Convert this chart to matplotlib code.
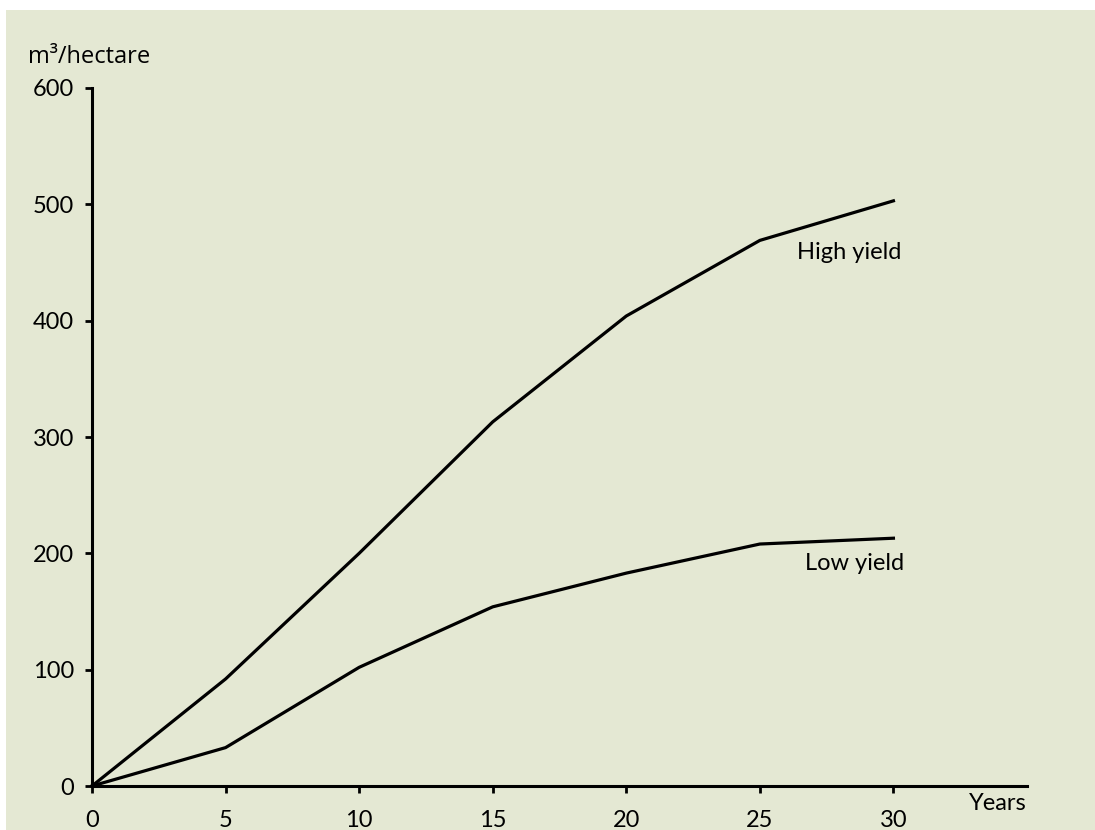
import matplotlib.pyplot as plt
from matplotlib.patches import Rectangle

years = [0, 5, 10, 15, 20, 25, 30]
high_yield = [0, 92, 200, 313, 404, 469, 503]
low_yield = [0, 33, 102, 154, 183, 208, 213]
x_ticks = [0, 5, 10, 15, 20, 25, 30]
y_ticks = [0, 100, 200, 300, 400, 500, 600]

plt.rcParams['font.family'] = ['Lato', 'DejaVu Sans']
bg = '#e4e8d3'
fs = 17

fig = plt.figure(figsize=(10.95, 8.3), dpi=100, facecolor='white')
fig.patches.append(Rectangle((6 / 1095, 0), 1 - 6 / 1095, 1 - 10 / 830,
                             transform=fig.transFigure, facecolor=bg,
                             edgecolor='none', zorder=-10))

ax = fig.add_axes([92 / 1095, 44 / 830, (1027 - 92) / 1095, (786 - 88) / 830])
ax.set_facecolor('none')

ax.plot(years, high_yield, color='black', lw=2.3, clip_on=False, solid_joinstyle='miter')
ax.plot(years, low_yield, color='black', lw=2.3, clip_on=False, solid_joinstyle='miter')

ax.set_xlim(0, 35)
ax.set_ylim(0, 600)
ax.set_xticks(x_ticks)
ax.set_yticks(y_ticks)
ax.tick_params(axis='both', labelsize=fs, width=2, length=5, color='black')
ax.tick_params(axis='x', pad=12)
ax.tick_params(axis='y', pad=8)

for s in ['top', 'right']:
    ax.spines[s].set_visible(False)
for s in ['left', 'bottom']:
    ax.spines[s].set_linewidth(2.2)

ax.text(26.4, 469 - 10, 'High yield', fontsize=fs, ha='left', va='center')
ax.text(26.7, 191, 'Low yield', fontsize=fs, ha='left', va='center')
ax.text(35, -15, 'Years', fontsize=fs, ha='right', va='center')
fig.text(28 / 1095, 1 - 57 / 830, 'm³/hectare', fontsize=fs, ha='left', va='center',
         family=['Open Sans', 'DejaVu Sans'])

fig.savefig('out.png', dpi=100, facecolor='white')
